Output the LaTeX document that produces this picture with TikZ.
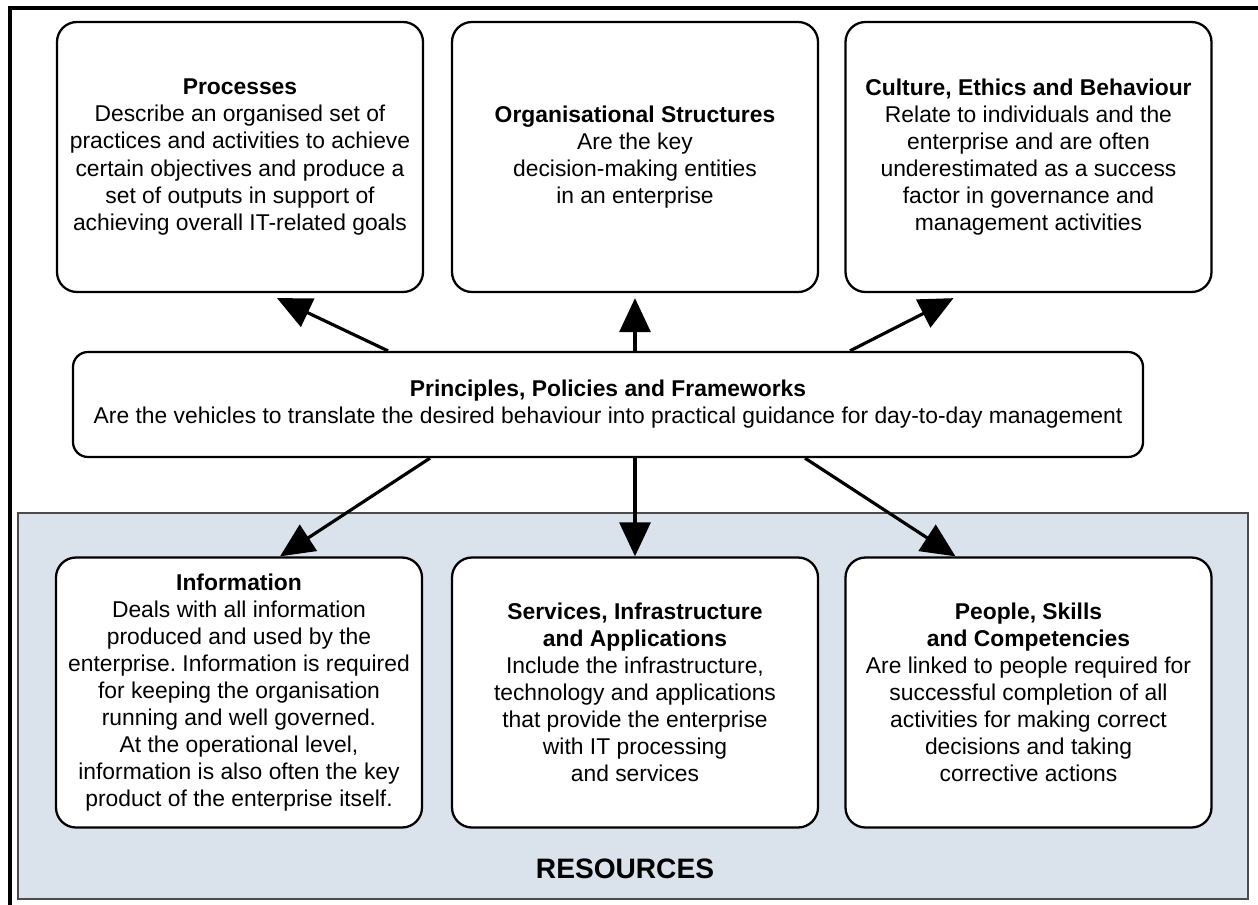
\documentclass[tikz,border=0pt]{standalone}
\usepackage{fontspec}
\setmainfont{Liberation Sans}
\usetikzlibrary{arrows.meta}
\definecolor{resblue}{HTML}{DAE2EC}
\frenchspacing
\begin{document}
\begin{tikzpicture}[x=1cm, y=1cm,
    enabler/.style={draw, line width=1.3pt, rounded corners=0.4cm, fill=white, align=center,
        minimum width=7.32cm, minimum height=5.4cm, inner sep=2pt,
        font=\fontsize{13}{15.4}\selectfont},
    bigarrow/.style={line width=1.8pt, -{Triangle[length=0.68cm, width=0.62cm]}}]
    \useasboundingbox (0,0) rectangle (25.16,-18.1);
    % frame and resources area
    \draw [line width=0.08cm] (0.2,-18.1) -- (0.2,-0.16) -- (25.16,-0.16);
    \draw [fill=resblue, draw=black!70, line width=0.9pt] (0.36,-10.26) rectangle (24.96,-17.98);
    \node at (12.5,-17.38) {\fontsize{16}{18}\selectfont\bfseries RESOURCES};
    % top row
    \node [enabler] (proc) at (4.8,-3.14) {\textbf{Processes}\\Describe an organised set of\\practices and activities to achieve\\certain objectives and produce a\\set of outputs in support of\\achieving overall IT-related goals};
    \node [enabler] (org) at (12.7,-3.14) {\textbf{Organisational Structures}\\Are the key\\decision-making entities\\in an enterprise};
    \node [enabler] (cult) at (20.57,-3.14) {\textbf{Culture, Ethics and Behaviour}\\Relate to individuals and the\\enterprise and are often\\underestimated as a success\\factor in governance and\\management activities};
    % middle
    \node [enabler, minimum width=21.4cm, minimum height=2.1cm, rounded corners=0.3cm] (ppf) at (12.16,-8.09) {\textbf{Principles, Policies and Frameworks}\\Are the vehicles to translate the desired behaviour into practical guidance for day-to-day management};
    % bottom row
    \node [enabler] (info) at (4.78,-13.85) {\textbf{Information}\\Deals with all information\\produced and used by the\\enterprise. Information is required\\for keeping the organisation\\running and well governed.\\At the operational level,\\information is also often the key\\product of the enterprise itself.};
    \node [enabler] (svc) at (12.7,-13.85) {\textbf{Services, Infrastructure}\\\textbf{and Applications}\\Include the infrastructure,\\technology and applications\\that provide the enterprise\\with IT processing\\and services};
    \node [enabler] (ppl) at (20.57,-13.85) {\textbf{People, Skills}\\\textbf{and Competencies}\\Are linked to people required for\\successful completion of all\\activities for making correct\\decisions and taking\\corrective actions};
    % arrows
    \draw [bigarrow] ([xshift=-4.4cm]ppf.north) -- ([xshift=0.74cm, yshift=-0.1cm]proc.south);
    \draw [bigarrow] (org.south |- ppf.north) -- ([yshift=-0.1cm]org.south);
    \draw [bigarrow] ([xshift=4.84cm]ppf.north) -- ([xshift=-1.5cm, yshift=-0.1cm]cult.south);
    \draw [bigarrow] ([xshift=-3.56cm]ppf.south) -- ([xshift=0.82cm]info.north);
    \draw [bigarrow] (svc.north |- ppf.south) -- (svc.north);
    \draw [bigarrow] ([xshift=3.94cm]ppf.south) -- ([xshift=-1.46cm]ppl.north);
\end{tikzpicture}
\end{document}
